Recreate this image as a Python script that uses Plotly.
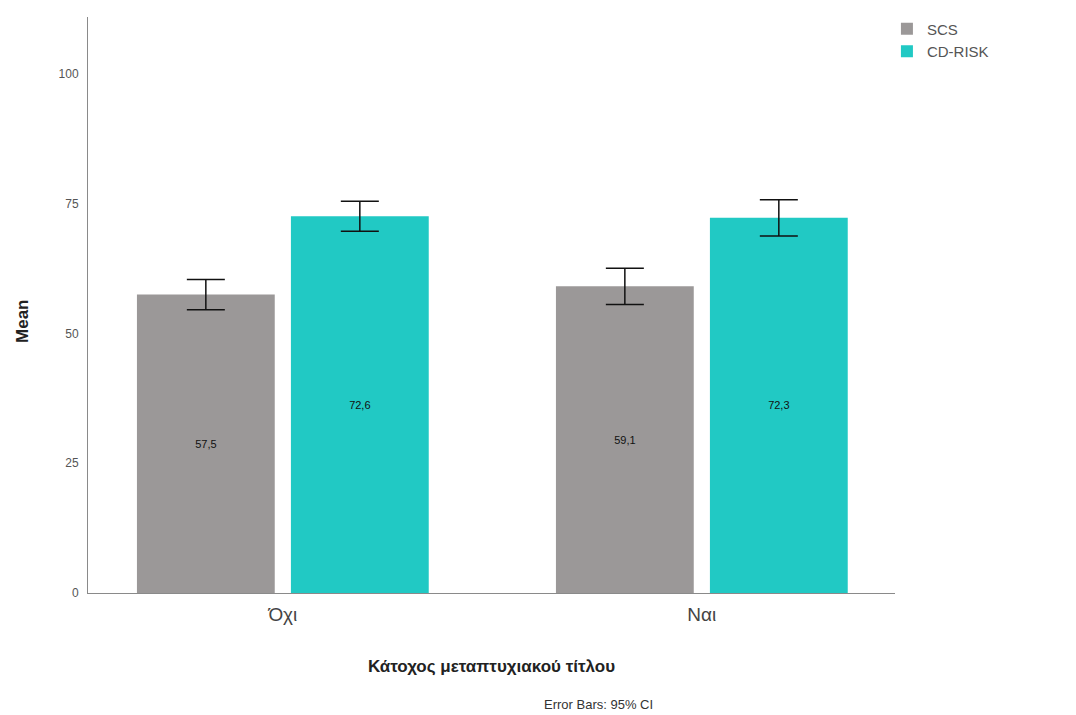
import plotly.graph_objects as go

categories = ["Όχι", "Ναι"]
scs_means = [57.5, 59.1]
cdrisk_means = [72.6, 72.3]
scs_ci = [2.9, 3.5]
cdrisk_ci = [2.9, 3.5]
series_names = ["SCS", "CD-RISK"]
y_ticks = [0, 25, 50, 75, 100]

def fmt(v):
    return f"{v:.1f}".replace(".", ",")

colors = ["#9b9898", "#21c9c4"]
font_family = "Liberation Sans, Arial, sans-serif"

fig = go.Figure()
for name, means, ci, col in [(series_names[0], scs_means, scs_ci, colors[0]),
                             (series_names[1], cdrisk_means, cdrisk_ci, colors[1])]:
    fig.add_trace(go.Bar(
        x=categories, y=means, name=name,
        marker=dict(color=col, line=dict(width=0)),
        text=[fmt(v) for v in means],
        textposition="inside", insidetextanchor="middle",
        textfont=dict(size=11, color="#111111", family=font_family),
        textangle=0,
        error_y=dict(type="data", array=ci, visible=True, color="#111111",
                     thickness=1.5, width=19),
    ))

fig.update_layout(
    width=1076, height=715,
    margin=dict(l=88, r=181, t=15, b=122),
    plot_bgcolor="white", paper_bgcolor="white",
    barmode="group", bargap=0.265, bargroupgap=0.105,
    font=dict(family=font_family, color="#333333"),
    showlegend=True,
    legend=dict(x=0.99, y=1.008, xanchor="left", yanchor="top",
                font=dict(size=15, color="#555555"), bgcolor="rgba(0,0,0,0)",
                tracegroupgap=0),
    xaxis=dict(
        type="category", range=[-0.465, 1.461],
        showline=True, linecolor="#8a8a8a", linewidth=1,
        ticks="", tickfont=dict(size=19, color="#444444"),
        ticklabelstandoff=4,
        title=dict(text="<b>Κάτοχος μεταπτυχιακού τίτλου</b>",
                   font=dict(size=17, color="#222222"), standoff=36),
        showgrid=False,
    ),
    yaxis=dict(
        range=[0, 111], tickvals=y_ticks, ticktext=[str(t) for t in y_ticks],
        showline=True, linecolor="#8a8a8a", linewidth=1,
        ticks="", tickfont=dict(size=12, color="#555555"),
        ticklabelstandoff=6,
        showgrid=False, zeroline=False,
    ),
    annotations=[
        dict(text="<b>Mean</b>", x=-0.082, y=0.472, xref="paper", yref="paper",
             textangle=-90, showarrow=False, font=dict(size=17, color="#222222"),
             xanchor="center", yanchor="middle"),
        dict(text="Error Bars: 95% CI", x=0.632, y=-0.194, xref="paper", yref="paper",
             showarrow=False, font=dict(size=13, color="#333333"),
             xanchor="center", yanchor="middle"),
    ],
)

fig.write_html("out.html")
